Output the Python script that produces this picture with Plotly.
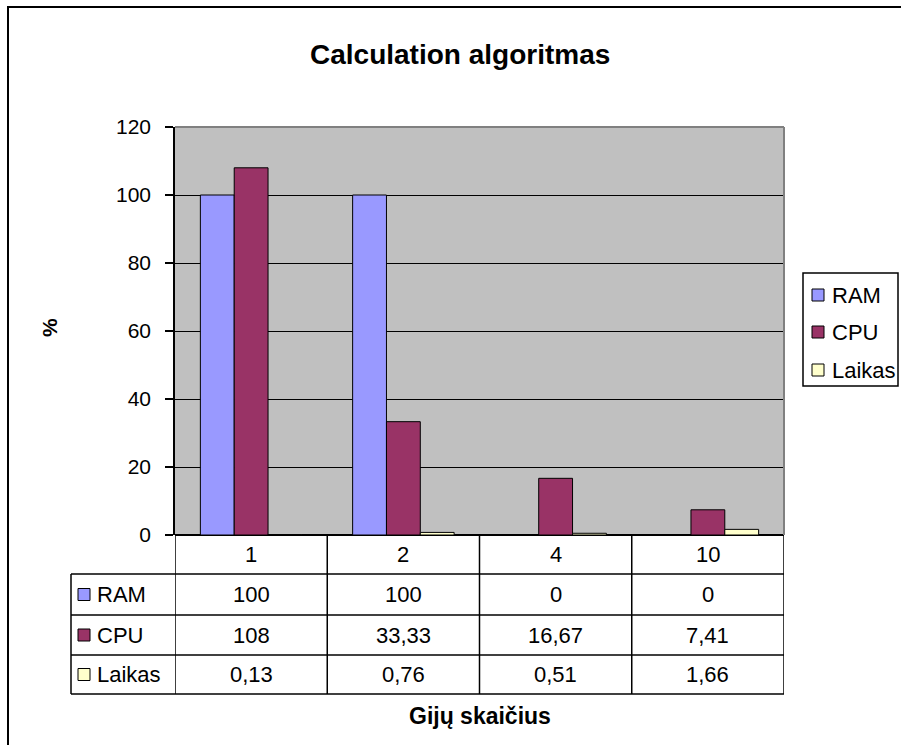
import plotly.graph_objects as go

# Thread counts (category axis) and measured series, in percent
categories = ["1", "2", "4", "10"]
ram = [100, 100, 0, 0]
cpu = [108, 33.33, 16.67, 7.41]
laikas = [0.13, 0.76, 0.51, 1.66]

series_names = ["RAM", "CPU", "Laikas"]
series_values = [ram, cpu, laikas]
series_colors = ["#9999FF", "#993366", "#FFFFCC"]

y_ticks = [0, 20, 40, 60, 80, 100, 120]

W, H = 901, 745
L, R, T, B = 175, 784, 127, 535          # plot area in pixels
PW, PH = R - L, B - T
FONT = "Liberation Sans, Arial, sans-serif"
FS = 22


def px(x):
    return (x - L) / PW


def py(y):
    return (B - y) / PH


def fmt(v):
    return f"{v:g}".replace(".", ",")


fig = go.Figure()
for name, vals, col in zip(series_names, series_values, series_colors):
    fig.add_trace(go.Bar(
        x=categories, y=vals, name=name, showlegend=False,
        marker=dict(color=col, line=dict(color="black", width=1)),
    ))

shapes = []
annotations = []
cell_font = dict(family=FONT, size=FS, color="black")
line = dict(color="black", width=1.5)

# Data table under the plot area
row_edges = [535, 574, 615, 655, 694]
n = len(categories)
col_edges = [i - 0.5 for i in range(n + 1)]
table_left = 71

# horizontal rules
for y in row_edges[1:]:
    shapes.append(dict(type="line", xref="paper", yref="paper",
                       x0=px(table_left), x1=px(R), y0=py(y), y1=py(y), line=line))
# vertical rules across the category columns
for xe in col_edges:
    shapes.append(dict(type="line", xref="x", yref="paper",
                       x0=xe, x1=xe, y0=py(row_edges[0]), y1=py(row_edges[-1]), line=line))
# left edge of the series-name column
shapes.append(dict(type="line", xref="paper", yref="paper",
                   x0=px(table_left), x1=px(table_left),
                   y0=py(row_edges[1]), y1=py(row_edges[-1]), line=line))

# header row: category labels
hy = (row_edges[0] + row_edges[1]) / 2
for i, c in enumerate(categories):
    annotations.append(dict(x=i, y=py(hy), xref="x", yref="paper", text=c,
                            showarrow=False, font=cell_font,
                            xanchor="center", yanchor="middle"))

# series rows
for r, (name, vals, col) in enumerate(zip(series_names, series_values, series_colors)):
    ymid = (row_edges[r + 1] + row_edges[r + 2]) / 2
    shapes.append(dict(type="rect", xref="paper", yref="paper",
                       x0=px(78), x1=px(90), y0=py(ymid - 6), y1=py(ymid + 6),
                       fillcolor=col, line=dict(color="black", width=1)))
    annotations.append(dict(x=px(95), y=py(ymid), xref="paper", yref="paper",
                            text=name, showarrow=False, font=cell_font,
                            xanchor="left", yanchor="middle"))
    for i, v in enumerate(vals):
        annotations.append(dict(x=i, y=py(ymid), xref="x", yref="paper",
                                text=fmt(v), showarrow=False, font=cell_font,
                                xanchor="center", yanchor="middle"))

# Legend box to the right of the plot area
leg_left, leg_right, leg_top, leg_bottom = 803, 898, 273, 386
shapes.append(dict(type="rect", xref="paper", yref="paper",
                   x0=px(leg_left), x1=px(leg_right), y0=py(leg_top), y1=py(leg_bottom),
                   line=dict(color="black", width=1.5), fillcolor="white"))
leg_rows = [295, 332, 370]
for yc, name, col in zip(leg_rows, series_names, series_colors):
    shapes.append(dict(type="rect", xref="paper", yref="paper",
                       x0=px(812), x1=px(824), y0=py(yc - 6), y1=py(yc + 6),
                       fillcolor=col, line=dict(color="black", width=1)))
    annotations.append(dict(x=px(830), y=py(yc), xref="paper", yref="paper",
                            text=name, showarrow=False, font=cell_font,
                            xanchor="left", yanchor="middle"))

# chart title and axis titles
annotations.append(dict(x=px(460), y=py(55), xref="paper", yref="paper",
                        text="<b>Calculation algoritmas</b>", showarrow=False,
                        font=dict(family=FONT, size=28, color="black"),
                        xanchor="center", yanchor="middle"))
annotations.append(dict(x=0.5, y=py(716), xref="paper", yref="paper",
                        text="<b>Gijų skaičius</b>", showarrow=False,
                        font=dict(family=FONT, size=23, color="black"),
                        xanchor="center", yanchor="middle"))
annotations.append(dict(x=px(49), y=py(328), xref="paper", yref="paper",
                        text="<b>%</b>", showarrow=False, textangle=-90,
                        font=dict(family=FONT, size=21, color="black"),
                        xanchor="center", yanchor="middle"))

# plot area frame (gray top/right)
shapes.append(dict(type="line", xref="paper", yref="paper", x0=0, x1=1, y0=1, y1=1,
                   line=dict(color="#808080", width=2)))
shapes.append(dict(type="line", xref="paper", yref="paper", x0=1, x1=1, y0=0, y1=1,
                   line=dict(color="#808080", width=2)))

# outer chart border (right and bottom edges fall outside the page)
shapes.append(dict(type="rect", xref="paper", yref="paper",
                   x0=px(8), x1=px(960), y0=py(7), y1=py(800),
                   line=dict(color="black", width=2), fillcolor="rgba(0,0,0,0)"))

fig.update_layout(
    width=W, height=H,
    margin=dict(l=L, r=W - R, t=T, b=H - B, pad=0, autoexpand=False),
    paper_bgcolor="white", plot_bgcolor="#C0C0C0",
    barmode="group", bargap=1 / 3, bargroupgap=0,
    font=dict(family=FONT, size=FS, color="black"),
    showlegend=False,
    shapes=shapes, annotations=annotations,
)
fig.update_xaxes(showticklabels=False, ticks="", showgrid=False, zeroline=False,
                 showline=False, range=[-0.5, n - 0.5], fixedrange=True)
fig.update_yaxes(range=[0, 120], tickvals=y_ticks, showgrid=True, gridcolor="black",
                 gridwidth=1, zeroline=True, zerolinecolor="black", zerolinewidth=1.5,
                 showline=True, linecolor="black", linewidth=1.5, ticks="outside",
                 ticklen=8, tickcolor="black", tickwidth=1.5, ticklabelstandoff=10,
                 tickfont=dict(family=FONT, size=21), fixedrange=True)

fig.write_html("out.html")
